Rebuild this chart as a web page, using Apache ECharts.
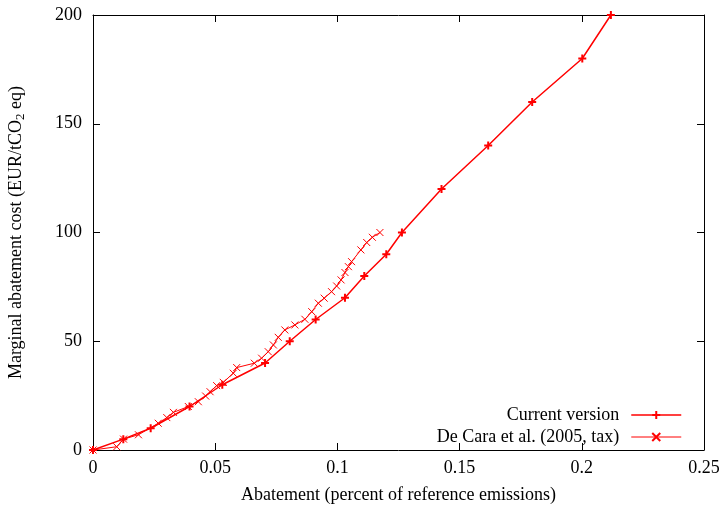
<!DOCTYPE html>
<html>
<head>
<meta charset="utf-8">
<script src="https://cdn.jsdelivr.net/npm/echarts@6/dist/echarts.min.js"></script>
<style>
  html, body { margin: 0; padding: 0; background: #fff; }
  #chart { width: 724px; height: 507px; }
</style>
</head>
<body>
<div id="chart"></div>
<script>
// Abatement share (fraction of reference emissions) and marginal cost (EUR/tCO2 eq)
const currentAbatement = [0, 0.0124, 0.0236, 0.0395, 0.0529, 0.0704, 0.0805, 0.0911, 0.1031, 0.111, 0.12, 0.1264, 0.1426, 0.1617, 0.1797, 0.2002, 0.2119];
const currentCost      = [0, 5, 10, 20, 30, 40, 50, 60, 70, 80, 90, 100, 120, 140, 160, 180, 200];

const deCaraAbatement = [0, 0.0097, 0.0125, 0.0186, 0.0267, 0.0302, 0.0329, 0.039, 0.0431, 0.0461, 0.0479, 0.0506, 0.0533, 0.0574, 0.0588, 0.066, 0.069, 0.0717, 0.0738, 0.0758, 0.0785, 0.0826, 0.0867, 0.0895, 0.0922, 0.0946, 0.0976, 0.0997, 0.1015, 0.1031, 0.1045, 0.1058, 0.1096, 0.112, 0.1143, 0.1174];
const deCaraCost      = [0, 1.5, 5, 7, 12.3, 14.9, 17.3, 20, 22.2, 24.8, 26.8, 29.6, 31.1, 35.3, 37.9, 39.9, 42.2, 45.2, 48.3, 51.8, 55.2, 57.5, 60.1, 63.6, 67.5, 69.8, 72.8, 75.4, 78.2, 81.6, 84.3, 86.6, 92, 95.4, 97.8, 100];

const xTicks = { min: 0, max: 0.25, step: 0.05 };
const yTicks = { min: 0, max: 200, step: 50 };

const seriesNames = ['Current version', 'De Cara et al. (2005, tax)'];

const pair = (xs, ys) => xs.map((x, i) => [x, ys[i]]);

const FONT = 'Liberation Serif';
const RED = '#ff0000';
const PLUS = 'path://M0,5L10,5M5,0L5,10';
const CROSS = 'path://M0,0L10,10M0,10L10,0';

const axisLineStyle = { show: true, onZero: false, lineStyle: { color: '#000', width: 1 } };
const tickStyle = { show: true, inside: true, length: 7, lineStyle: { color: '#000', width: 1 } };

const chart = echarts.init(document.getElementById('chart'), null, { renderer: 'canvas' });

chart.setOption({
  animation: false,
  backgroundColor: '#fff',
  textStyle: { fontFamily: FONT },
  grid: { left: 93, right: 20, top: 15, bottom: 57, containLabel: false, outerBoundsMode: 'none' },
  legend: {
    orient: 'vertical',
    right: 37,
    top: 401,
    align: 'right',
    itemWidth: 50,
    itemHeight: 10,
    itemGap: 4,
    textStyle: { fontFamily: FONT, fontSize: 18, color: '#000', padding: [0, 7, 0, 0] },
    data: [
      { name: seriesNames[0], lineStyle: { width: 1.5 } },
      { name: seriesNames[1], lineStyle: { width: 1 } }
    ]
  },
  xAxis: [
    {
      type: 'value', min: xTicks.min, max: xTicks.max, interval: xTicks.step,
      position: 'bottom',
      name: 'Abatement (percent of reference emissions)',
      nameLocation: 'middle', nameGap: 36,
      nameTextStyle: { fontFamily: FONT, fontSize: 18, color: '#000' },
      axisLine: axisLineStyle, axisTick: tickStyle,
      axisLabel: { fontFamily: FONT, fontSize: 18, color: '#000', margin: 9 },
      splitLine: { show: false }
    },
    {
      type: 'value', min: xTicks.min, max: xTicks.max, interval: xTicks.step,
      position: 'top',
      axisLine: axisLineStyle, axisTick: tickStyle,
      axisLabel: { show: false }, splitLine: { show: false }
    }
  ],
  yAxis: [
    {
      type: 'value', min: yTicks.min, max: yTicks.max, interval: yTicks.step,
      position: 'left',
      name: '{a|Marginal abatement cost (EUR/tCO}{s|2}{a| eq)}',
      nameLocation: 'middle', nameGap: 66, nameRotate: 90,
      nameTextStyle: {
        color: '#000',
        rich: {
          a: { fontFamily: FONT, fontSize: 18, color: '#000', lineHeight: 22 },
          s: { fontFamily: FONT, fontSize: 13, color: '#000', lineHeight: 22, padding: [10, 0, 0, 0] }
        }
      },
      axisLine: axisLineStyle, axisTick: tickStyle,
      axisLabel: { fontFamily: FONT, fontSize: 18, color: '#000', margin: 11 },
      splitLine: { show: false }
    },
    {
      type: 'value', min: yTicks.min, max: yTicks.max, interval: yTicks.step,
      position: 'right',
      axisLine: axisLineStyle, axisTick: tickStyle,
      axisLabel: { show: false }, splitLine: { show: false }
    }
  ],
  series: [
    {
      name: seriesNames[0],
      type: 'line',
      data: pair(currentAbatement, currentCost),
      symbol: PLUS, symbolSize: 8, showAllSymbol: true,
      lineStyle: { color: RED, width: 1.5 },
      itemStyle: { color: RED, borderColor: RED, borderWidth: 2 },
      emphasis: { disabled: true }
    },
    {
      name: seriesNames[1],
      type: 'line',
      data: pair(deCaraAbatement, deCaraCost),
      symbol: CROSS, symbolSize: 7, showAllSymbol: true,
      lineStyle: { color: RED, width: 1 },
      itemStyle: { color: RED, borderColor: RED, borderWidth: 1 },
      emphasis: { disabled: true }
    }
  ]
});
</script>
</body>
</html>
